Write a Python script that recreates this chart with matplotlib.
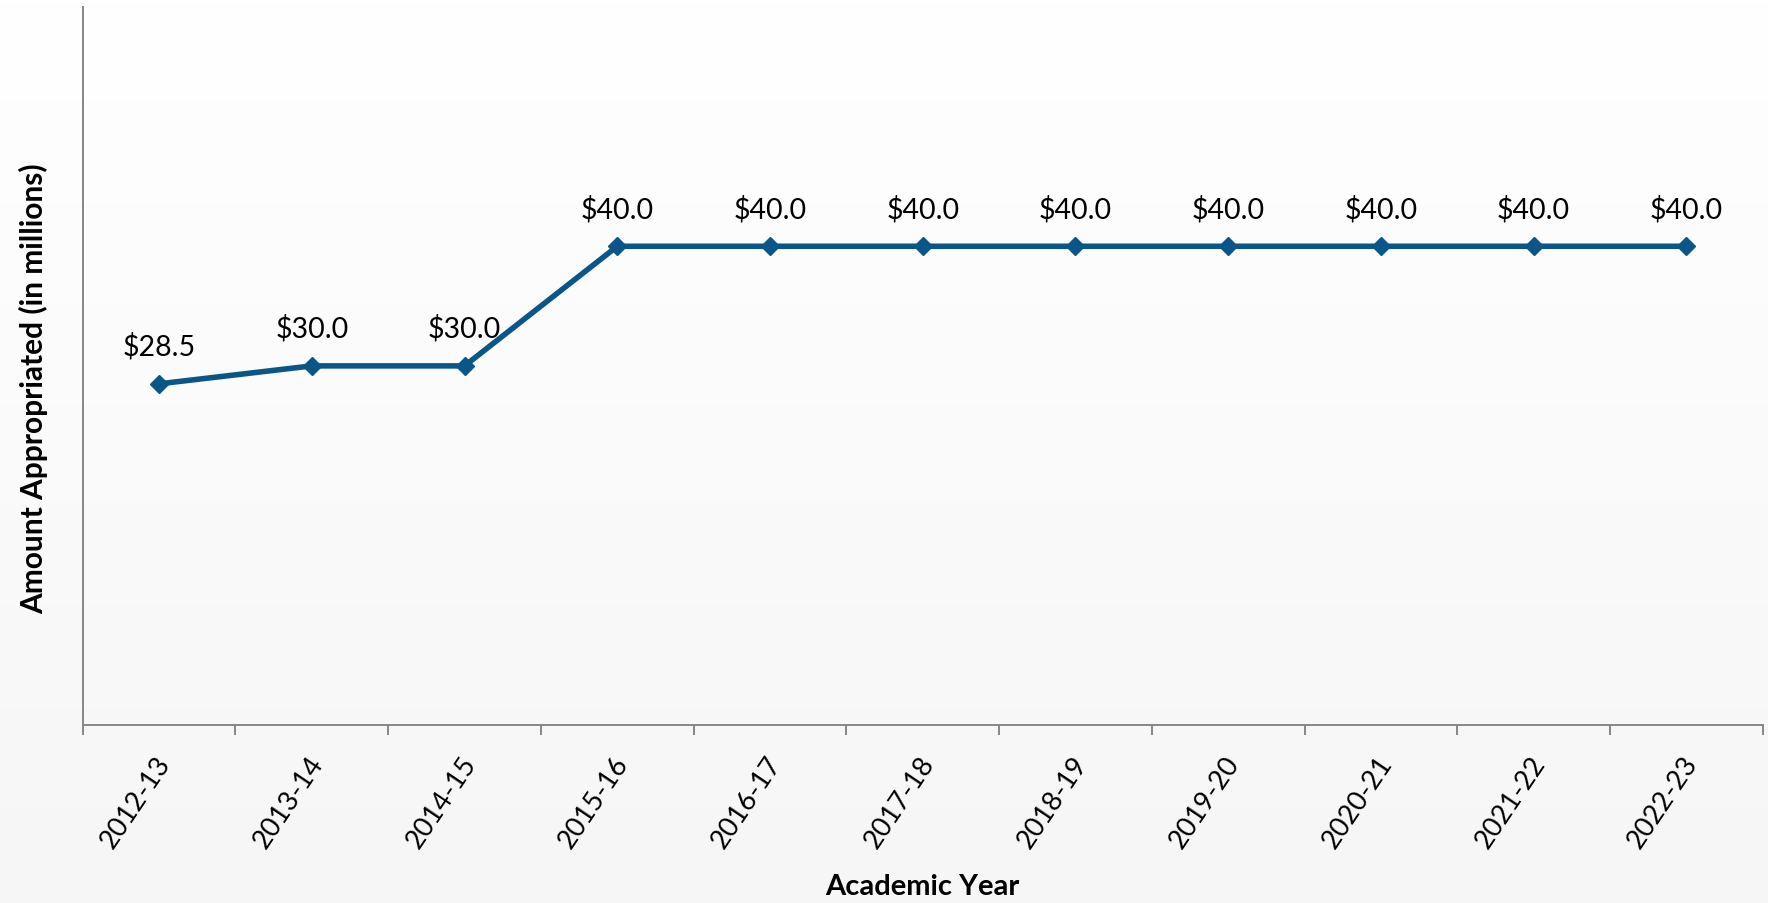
import numpy as np
import matplotlib
matplotlib.use("Agg")
import matplotlib.pyplot as plt
from matplotlib.transforms import ScaledTranslation

years = ["2012-13", "2013-14", "2014-15", "2015-16", "2016-17", "2017-18",
         "2018-19", "2019-20", "2020-21", "2021-22", "2022-23"]
amounts = [28.5, 30.0, 30.0, 40.0, 40.0, 40.0, 40.0, 40.0, 40.0, 40.0, 40.0]

line_color = "#0b5689"
axis_color = "#868686"

plt.rcParams['font.family'] = ['Lato', 'DejaVu Sans']

fig = plt.figure(figsize=(17.68, 9.04), dpi=100)

# soft vertical gradient behind everything (white at top, light gray at bottom)
bg = fig.add_axes([0, 0, 1, 1], zorder=-10)
grad = np.linspace(1.0, 0.965, 256).reshape(-1, 1)
bg.imshow(np.dstack([grad, grad, grad]), aspect="auto", extent=[0, 1, 0, 1])
bg.axis("off")

ax = fig.add_axes([0.0468, 0.1972, 0.9502, 0.7939])
ax.patch.set_alpha(0)

x = np.arange(len(years))
ax.plot(x, amounts, color=line_color, lw=4.0, marker="D", markersize=9,
        solid_joinstyle="miter")

for xi, v in zip(x, amounts):
    ax.annotate(f"${v:.1f}", (xi, v), xytext=(0, 21), textcoords="offset points",
                ha="center", va="baseline", fontsize=20.5, color="black")

ax.set_xlim(-0.5, len(years) - 0.5)
ax.set_ylim(0, 60)

for s in ["top", "right"]:
    ax.spines[s].set_visible(False)
for s in ["left", "bottom"]:
    ax.spines[s].set_color(axis_color)
    ax.spines[s].set_linewidth(1.4)

ax.set_yticks([])
ax.set_xticks(np.arange(-0.5, len(years)))
ax.set_xticklabels([])
ax.tick_params(axis="x", which="major", length=7, width=1.4, color=axis_color)
ax.set_xticks(x, minor=True)
ax.set_xticklabels(years, minor=True, rotation=56, ha="right", va="center",
                   rotation_mode="anchor", fontsize=19.5)
ax.tick_params(axis="x", which="minor", length=0, pad=24)
shift = ScaledTranslation(6 / 100, 0, fig.dpi_scale_trans)
for lab in ax.get_xticklabels(minor=True):
    lab.set_transform(lab.get_transform() + shift)

fig.text(0.5215, 0.004, "Academic Year", ha="center", va="bottom",
         fontsize=21, fontweight="bold")
fig.text(0.019, 0.570, "Amount Appropriated (in millions)", ha="center", va="center",
         rotation=90, fontsize=21.5, fontweight="bold")

fig.savefig("out.png", dpi=100)
